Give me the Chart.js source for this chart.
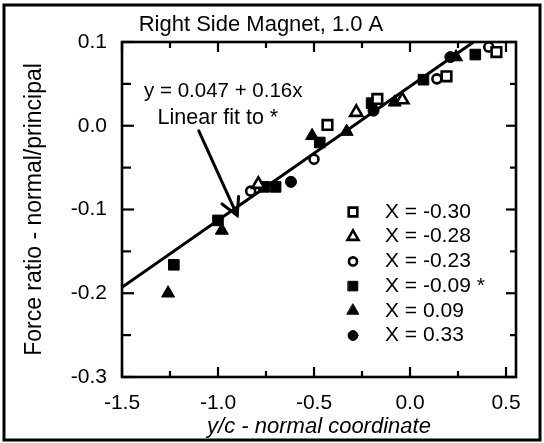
<!DOCTYPE html>
<html><head><meta charset="utf-8">
<script src="https://cdn.jsdelivr.net/npm/chart.js@4.4.1/dist/chart.umd.min.js"></script>
<style>html,body{margin:0;padding:0;background:#fff;overflow:hidden}</style>
</head><body>
<canvas id="c" width="544" height="443"></canvas>
<script>
// ---- text ----
const chartTitle = 'Right Side Magnet, 1.0 A';
const xAxisTitle = 'y/c - normal coordinate';
const yAxisTitle = 'Force ratio - normal/principal';
const fitEquation = 'y = 0.047 + 0.16x';
const fitNote = 'Linear fit to *';
const seriesLabels = ['X = -0.30', 'X = -0.28', 'X = -0.23', 'X = -0.09 *', 'X = 0.09', 'X = 0.33'];

// ---- ticks ----
const xTickValues = [-1.5, -1.0, -0.5, 0.0, 0.5];
const xTickLabels = ['-1.5', '-1.0', '-0.5', '0.0', '0.5'];
const xMinorTicks = [-1.25, -0.75, -0.25, 0.25];
const yTickValues = [0.1, 0.0, -0.1, -0.2, -0.3];
const yTickLabels = ['0.1', '0.0', '-0.1', '-0.2', '-0.3'];
const yMinorTicks = [0.05, -0.05, -0.15, -0.25];

// ---- series ----
const openSquareX = [-0.43, -0.17, 0.19, 0.45];
const openSquareY = [0.001, 0.032, 0.059, 0.088];
const openTriX = [-0.79, -0.28, -0.04];
const openTriY = [-0.070, 0.016, 0.031];
const openCircX = [-0.83, -0.50, 0.14, 0.41];
const openCircY = [-0.078, -0.040, 0.056, 0.094];
const fillSquareX = [-1.23, -1.00, -0.76, -0.70, -0.47, -0.20, 0.07, 0.34];
const fillSquareY = [-0.166, -0.113, -0.073, -0.073, -0.020, 0.027, 0.055, 0.085];
const fillTriX = [-1.26, -0.98, -0.51, -0.33, -0.08, 0.24];
const fillTriY = [-0.200, -0.125, -0.012, -0.007, 0.028, 0.082];
const fillCircX = [-0.62, -0.19, 0.21];
const fillCircY = [-0.067, 0.018, 0.082];

// fit line endpoints as drawn
const fitX = [-1.5, 0.331];
const fitY = [-0.193, 0.100];
// arrow from note to point
const arrowX = [-1.10, -0.90];
const arrowY = [-0.006, -0.107];

const zip = (xs, ys) => xs.map((v, i) => ({x: v, y: ys[i]}));
const FONT = "'Liberation Sans', Arial, Helvetica, sans-serif";
Chart.defaults.font.family = FONT;
Chart.defaults.color = '#000';

function pointDs(label, xs, ys, style, filled, r) {
  return {
    type: 'scatter', label, data: zip(xs, ys), pointStyle: style,
    pointRadius: r, pointHoverRadius: r,
    pointBackgroundColor: filled ? '#000' : '#fff',
    pointBorderColor: '#000', pointBorderWidth: filled ? 1 : 2.6,
    clip: false
  };
}

const datasets = [
  pointDs(seriesLabels[0], openSquareX, openSquareY, 'rect', false, 6.8),
  pointDs(seriesLabels[1], openTriX, openTriY, 'triangle', false, 7),
  pointDs(seriesLabels[2], openCircX, openCircY, 'circle', false, 4.5),
  pointDs(seriesLabels[3], fillSquareX, fillSquareY, 'rect', true, 7.5),
  pointDs(seriesLabels[4], fillTriX, fillTriY, 'triangle', true, 7.5),
  pointDs(seriesLabels[5], fillCircX, fillCircY, 'circle', true, 5.5),
  { type: 'line', label: 'fit', data: zip(fitX, fitY), borderColor: '#000', borderWidth: 3,
    pointRadius: 0, fill: false, tension: 0 }
];

const frameAndTicks = {
  id: 'frameAndTicks',
  beforeDatasetsDraw(chart) {
    const {ctx, chartArea: a, scales: {x, y}} = chart;
    ctx.save();
    ctx.strokeStyle = '#000';
    ctx.lineWidth = 2.6;
    ctx.strokeRect(a.left, a.top, a.right - a.left, a.bottom - a.top);
    ctx.lineWidth = 2.2;
    const seg = (x1, y1, x2, y2) => { ctx.beginPath(); ctx.moveTo(x1, y1); ctx.lineTo(x2, y2); ctx.stroke(); };
    xTickValues.forEach(v => { const p = x.getPixelForValue(v); seg(p, a.bottom, p, a.bottom - 10); seg(p, a.top, p, a.top + 10); });
    xMinorTicks.forEach(v => { const p = x.getPixelForValue(v); seg(p, a.bottom, p, a.bottom - 6); seg(p, a.top, p, a.top + 6); });
    yTickValues.forEach(v => { const p = y.getPixelForValue(v); seg(a.left, p, a.left + 12, p); seg(a.right, p, a.right - 10, p); });
    yMinorTicks.forEach(v => { const p = y.getPixelForValue(v); seg(a.left, p, a.left + 9, p); seg(a.right, p, a.right - 6, p); });
    ctx.restore();
  }
};

const annotations = {
  id: 'annotations',
  afterDatasetsDraw(chart) {
    const {ctx, chartArea: a, scales: {x, y}} = chart;
    ctx.save();
    ctx.fillStyle = '#000';
    ctx.strokeStyle = '#000';
    ctx.textBaseline = 'middle';
    ctx.textAlign = 'left';
    ctx.font = '20.5px ' + FONT;
    ctx.fillText(fitEquation, x.getPixelForValue(-1.385), y.getPixelForValue(0.0415));
    ctx.font = '21.5px ' + FONT;
    ctx.fillText(fitNote, x.getPixelForValue(-1.315), y.getPixelForValue(0.009));
    // arrow
    const x1 = x.getPixelForValue(arrowX[0]), y1 = y.getPixelForValue(arrowY[0]);
    const x2 = x.getPixelForValue(arrowX[1]), y2 = y.getPixelForValue(arrowY[1]);
    ctx.lineWidth = 3;
    ctx.lineCap = 'round';
    ctx.beginPath(); ctx.moveTo(x1, y1); ctx.lineTo(x2, y2); ctx.stroke();
    const ang = Math.atan2(y2 - y1, x2 - x1);
    const L = 19, spread = 0.5;
    ctx.beginPath();
    ctx.moveTo(x2 - L * Math.cos(ang - spread), y2 - L * Math.sin(ang - spread));
    ctx.lineTo(x2, y2);
    ctx.lineTo(x2 - L * Math.cos(ang + spread), y2 - L * Math.sin(ang + spread));
    ctx.stroke();
    // legend
    const mX = a.left + 231, tX = a.left + 263, row0 = a.top + 170, step = 24.7;
    chart.data.datasets.slice(0, 6).forEach((ds, i) => {
      const cy = row0 + i * step;
      ctx.fillStyle = ds.pointBackgroundColor;
      ctx.strokeStyle = '#000';
      ctx.lineWidth = ds.pointBorderWidth;
      Chart.helpers.drawPoint(ctx, {pointStyle: ds.pointStyle, radius: ds.pointRadius * 0.9, rotation: 0, borderWidth: ds.pointBorderWidth}, mX, cy);
      ctx.fillStyle = '#000';
      ctx.font = '21px ' + FONT;
      ctx.fillText(ds.label, tX, cy);
    });
    ctx.restore();
  },
  afterDraw(chart) {
    const {ctx} = chart;
    ctx.save();
    ctx.strokeStyle = '#000';
    ctx.lineWidth = 3;
    ctx.strokeRect(4, 5, 536, 435);
    ctx.restore();
  }
};

new Chart(document.getElementById('c'), {
  data: { datasets },
  options: {
    responsive: false, animation: false, devicePixelRatio: 1,
    layout: { padding: { left: 6, right: 28, top: 0, bottom: 0 } },
    plugins: {
      legend: { display: false }, tooltip: { enabled: false },
      title: { display: true, text: chartTitle, color: '#000',
        font: { size: 22, weight: 'normal', family: FONT, lineHeight: 1.2 }, padding: { top: 12, bottom: 3.6 } }
    },
    scales: {
      x: {
        type: 'linear', min: -1.5, max: 0.552,
        afterBuildTicks: s => { s.ticks = xTickValues.map(v => ({value: v})); },
        afterFit: s => { s.height = 66; },
        grid: { display: false, drawTicks: false }, border: { display: false },
        ticks: { padding: 14, autoSkip: false, maxRotation: 0, color: '#000',
          font: { size: 21, family: FONT },
          callback: v => xTickLabels[xTickValues.indexOf(v)] },
        title: { display: true, text: xAxisTitle, color: '#000',
          font: { size: 22, style: 'italic', family: FONT, lineHeight: 1.2 }, padding: { top: 0, bottom: 3 } }
      },
      y: {
        type: 'linear', min: -0.3, max: 0.1,
        afterBuildTicks: s => { s.ticks = yTickValues.map(v => ({value: v})); },
        afterFit: s => { s.width = 116; },
        grid: { display: false, drawTicks: false }, border: { display: false },
        ticks: { padding: 15, autoSkip: false, color: '#000',
          font: { size: 21, family: FONT },
          callback: v => yTickLabels[yTickValues.indexOf(v)] },
        title: { display: true, text: yAxisTitle, color: '#000',
          font: { size: 23, family: FONT, lineHeight: 1.2 }, padding: { top: 15, bottom: 0 } }
      }
    }
  },
  plugins: [frameAndTicks, annotations]
});
</script>
</body></html>
